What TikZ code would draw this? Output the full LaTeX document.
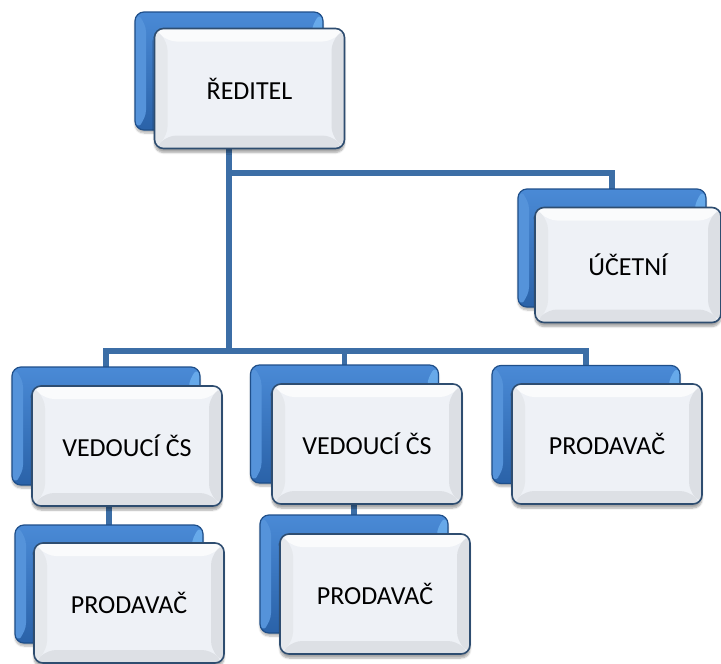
\documentclass[tikz,border=0pt]{standalone}
\usepackage{fontspec}
\setmainfont{Carlito}
\usetikzlibrary{shadows.blur}
\definecolor{connc}{HTML}{3C6EA6}
\definecolor{blueA}{HTML}{4A8AD6}
\definecolor{blueB}{HTML}{2A62A8}
\definecolor{blueE}{HTML}{1F4F8A}
\definecolor{blueL}{HTML}{6FB2F0}
\definecolor{blueBev}{HTML}{5593DA}
\definecolor{wEdge}{HTML}{2E4D70}
\definecolor{wTop}{HTML}{FAFBFC}
\definecolor{wLeft}{HTML}{E5E8EC}
\definecolor{wRight}{HTML}{DCDFE4}
\definecolor{wBot}{HTML}{DDE0E5}
\definecolor{wIn}{HTML}{EEF1F6}
\tikzset{
  conn/.style={draw=connc, line width=5.5pt},
  bbox/.style={rectangle, rounded corners=9pt, minimum width=188pt, minimum height=118pt,
    draw=blueE, line width=1.2pt, top color=blueA, bottom color=blueB,
    blur shadow={shadow xshift=0pt, shadow yshift=-3pt, shadow opacity=30, shadow blur steps=6},
    path picture={
      \def\pb{path picture bounding box}
      \fill[blueBev] (\pb.north west) -- ([xshift=11pt,yshift=-11pt]\pb.north west) -- ([xshift=11pt,yshift=11pt]\pb.south west) -- (\pb.south west) -- cycle;
      \fill[blueL, opacity=0.8] (\pb.north east) -- ([xshift=-11pt,yshift=-11pt]\pb.north east) -- ([xshift=-11pt,yshift=11pt]\pb.south east) -- (\pb.south east) -- cycle;
    }},
  wbox/.style={rectangle, rounded corners=9pt, minimum width=190pt, minimum height=120pt,
    draw=wEdge, line width=1.6pt, fill=wIn, text=black, inner sep=0pt,
    font=\fontsize{26}{30}\selectfont,
    blur shadow={shadow xshift=0pt, shadow yshift=-4pt, shadow opacity=35, shadow blur steps=6},
    path picture={
      \def\pb{path picture bounding box}
      \fill[wTop] (\pb.north west) -- (\pb.north east) -- ([xshift=-13pt,yshift=-13pt]\pb.north east) -- ([xshift=13pt,yshift=-13pt]\pb.north west) -- cycle;
      \fill[wLeft] (\pb.north west) -- ([xshift=13pt,yshift=-13pt]\pb.north west) -- ([xshift=13pt,yshift=13pt]\pb.south west) -- (\pb.south west) -- cycle;
      \fill[wRight] (\pb.north east) -- ([xshift=-13pt,yshift=-13pt]\pb.north east) -- ([xshift=-13pt,yshift=13pt]\pb.south east) -- (\pb.south east) -- cycle;
      \fill[wBot] (\pb.south west) -- ([xshift=13pt,yshift=13pt]\pb.south west) -- ([xshift=-13pt,yshift=13pt]\pb.south east) -- (\pb.south east) -- cycle;
    }},
}
\begin{document}
\begin{tikzpicture}[x=1pt,y=-1pt]
\useasboundingbox (0,0) rectangle (721,664);
\path (229,71) coordinate (rbc) (612,248) coordinate (ubc) (106,426) coordinate (v1bc)
      (344.5,424) coordinate (v2bc) (586,424.5) coordinate (p3bc) (109,584) coordinate (p1bc)
      (354,574) coordinate (p2bc);
\coordinate (bus) at (229,351);
\coordinate (j) at (229,173);
% connectors
\draw[conn] (rbc) -- (bus);
\draw[conn] (ubc) |- (j);
\draw[conn] (v1bc) |- (bus);
\draw[conn] (v2bc) |- (bus);
\draw[conn] (p3bc) |- (bus);
\draw[conn] (p1bc) -- (p1bc |- 0,500);
\draw[conn] (p2bc) -- (p2bc |- 0,500);
% boxes
\node[bbox] (rb) at (rbc) {};
\node[wbox] (r) at (249.5,88.5) {ŘEDITEL};
\node[bbox] (ub) at (ubc) {};
\node[wbox, minimum width=186pt, minimum height=115pt] (u) at (628,265) {ÚČETNÍ};
\node[bbox] (v1b) at (v1bc) {};
\node[wbox] (v1) at (127,446) {VEDOUCÍ ČS};
\node[bbox] (v2b) at (v2bc) {};
\node[wbox] (v2) at (367,444) {VEDOUCÍ ČS};
\node[bbox] (p3b) at (p3bc) {};
\node[wbox] (p3) at (607,444) {PRODAVAČ};
\node[bbox] (p1b) at (p1bc) {};
\node[wbox] (p1) at (129,603) {PRODAVAČ};
\node[bbox] (p2b) at (p2bc) {};
\node[wbox] (p2) at (375,594) {PRODAVAČ};
\end{tikzpicture}
\end{document}
